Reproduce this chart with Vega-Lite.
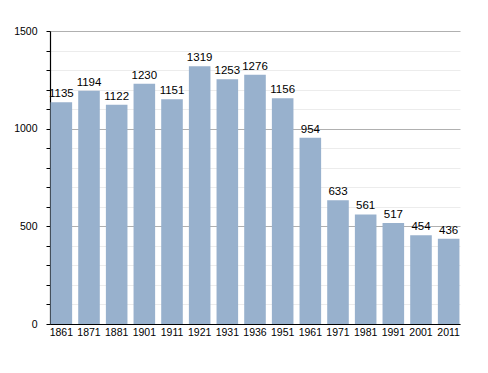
{
  "$schema": "https://vega.github.io/schema/vega-lite/v6.json",
  "width": 410,
  "height": 293,
  "autosize": {"type": "none"},
  "padding": {"left": 50, "top": 31, "right": 28, "bottom": 49},
  "background": "white",
  "config": {
    "view": {"stroke": null},
    "font": "Liberation Sans",
    "axis": {"labelFont": "Liberation Sans", "labelColor": "#000", "labelFontSize": 10.5}
  },
  "data": {
    "values": [
      {"year": "1861", "pop": 1135},
      {"year": "1871", "pop": 1194},
      {"year": "1881", "pop": 1122},
      {"year": "1901", "pop": 1230},
      {"year": "1911", "pop": 1151},
      {"year": "1921", "pop": 1319},
      {"year": "1931", "pop": 1253},
      {"year": "1936", "pop": 1276},
      {"year": "1951", "pop": 1156},
      {"year": "1961", "pop": 954},
      {"year": "1971", "pop": 633},
      {"year": "1981", "pop": 561},
      {"year": "1991", "pop": 517},
      {"year": "2001", "pop": 454},
      {"year": "2011", "pop": 436}
    ]
  },
  "encoding": {
    "x": {
      "field": "year", "type": "ordinal", "sort": null,
      "scale": {"paddingInner": 0.22, "paddingOuter": 0.02},
      "axis": {"title": null, "labelAngle": 0, "ticks": false, "domainColor": "#000", "domainWidth": 1.2, "labelPadding": 3}
    },
    "y": {
      "field": "pop", "type": "quantitative",
      "scale": {"domain": [0, 1500], "nice": false},
      "axis": {
        "title": null,
        "values": [0,100,200,300,400,500,600,700,800,900,1000,1100,1200,1300,1400,1500],
        "labelExpr": "datum.value % 500 === 0 ? datum.label : ''",
        "format": "d",
        "domainColor": "#000",
        "domainWidth": 1.2,
        "tickColor": "#000",
        "tickSize": 4,
        "labelPadding": 9,
        "grid": true,
        "gridColor": {"condition": {"test": "datum.value % 500 === 0", "value": "#b0b0b0"}, "value": "#ececec"}
      }
    }
  },
  "layer": [
    {"mark": {"type": "bar", "color": "#98b1cd"}},
    {
      "mark": {"type": "text", "dy": -5, "baseline": "alphabetic", "fontSize": 11.5, "color": "#000", "font": "Liberation Sans"},
      "encoding": {"text": {"field": "pop", "type": "quantitative"}}
    }
  ]
}
